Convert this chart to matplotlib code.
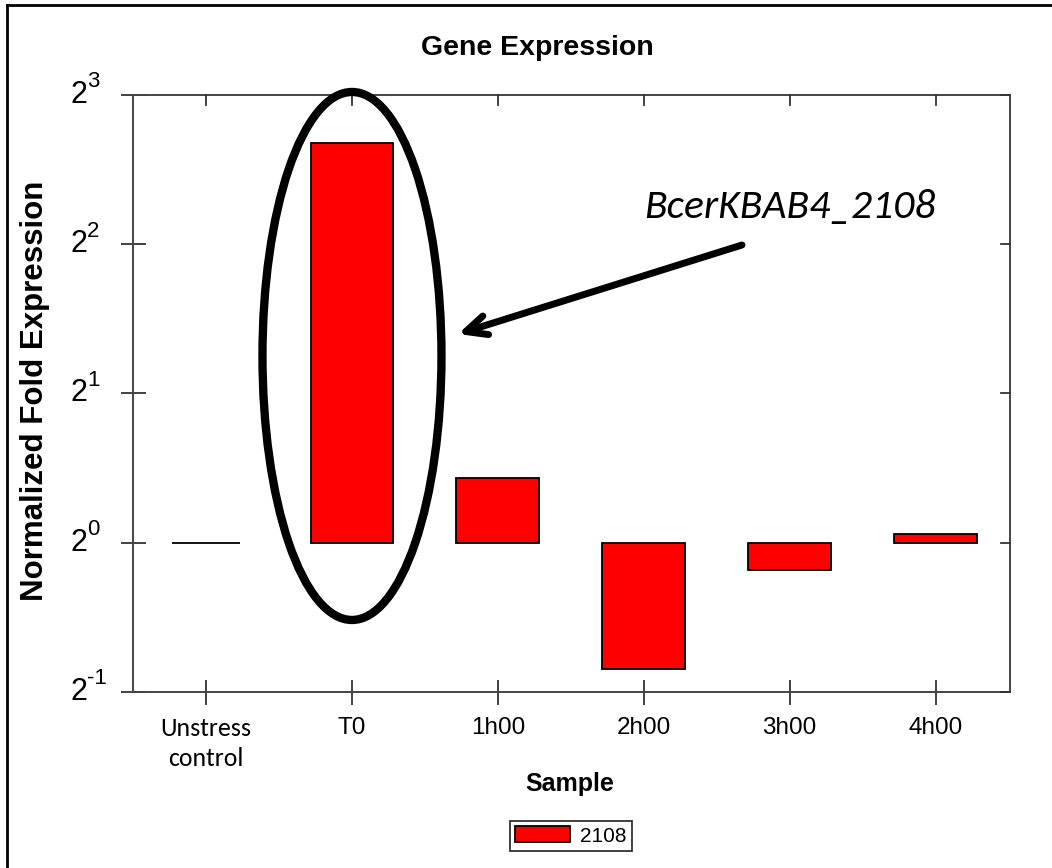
import matplotlib
matplotlib.use("Agg")

import matplotlib.pyplot as plt
import matplotlib.transforms as mtransforms
import numpy as np
from matplotlib import font_manager
from matplotlib.font_manager import FontProperties
from matplotlib.lines import Line2D
from matplotlib.patches import Ellipse, Patch
from matplotlib.ticker import NullLocator


samples = ["Unstress\ncontrol", "T0", "1h00", "2h00", "3h00", "4h00"]
fold_expression = [1.0, 6.41, 1.352, 0.557, 0.882, 1.043]
bar_widths = [0.47, 0.56, 0.57, 0.57, 0.57, 0.57]
y_exponents = [-1, 0, 1, 2, 3]
series_name = "2108"
gene_label = "BcerKBAB4_2108"


def narrow_font(bold=False):
    """Pick a condensed sans face if one is installed, else plain Liberation Sans."""
    wanted = ("Liberation Sans Narrow", "Noto Sans", "Open Sans", "Roboto", "Inter")
    for f in font_manager.fontManager.ttflist:
        if f.name not in wanted or f.style != "normal":
            continue
        if f.stretch not in ("condensed", "semi-condensed", "extra-condensed"):
            continue
        w = f.weight if isinstance(f.weight, int) else (700 if f.weight == "bold" else 400)
        if (w >= 600) == bold and w in (400, 700):
            return FontProperties(fname=f.fname)
    return FontProperties(family="Liberation Sans", weight="bold" if bold else "normal")


def sized(fp, size):
    fp = fp.copy()
    fp.set_size(size)
    return fp


installed = {f.name for f in font_manager.fontManager.ttflist}
NARROW = narrow_font(False)
NARROW_BOLD = narrow_font(True)
OFFICE = "Carlito" if "Carlito" in installed else "Open Sans"

fig = plt.figure(figsize=(10.52, 8.68), dpi=100)
ax = fig.add_axes([0.1264, 0.2028, 0.8337, 0.6878])

x = np.arange(len(samples))
heights = np.array(fold_expression) - 1.0
ax.bar(x, heights, bottom=1.0, width=bar_widths, color="#ff0000",
       edgecolor="black", linewidth=1.3, zorder=2)

ax.set_yscale("log", base=2)
ax.set_ylim(2.0 ** -1, 2.0 ** 3)
ax.set_xlim(-0.5, 5.51)

# y labels drawn as "2" plus a raised exponent
ax.set_yticks([2.0 ** e for e in y_exponents])
ax.set_yticklabels([])
ax.yaxis.set_minor_locator(NullLocator())
base_tf = mtransforms.blended_transform_factory(fig.transFigure, ax.transData)
for e in y_exponents:
    ax.text(87 / 1052, 2.0 ** e, "2", transform=base_tf, ha="right", va="center",
            fontproperties=sized(NARROW, 22), clip_on=False)
    sup_tf = base_tf + mtransforms.ScaledTranslation(0, 13 / 100, fig.dpi_scale_trans)
    ax.text(87 / 1052, 2.0 ** e, f"{e}", transform=sup_tf, ha="left", va="center",
            fontproperties=sized(NARROW, 16), clip_on=False)

ax.set_xticks(x)
ax.set_xticklabels(samples)
for i, lab in enumerate(ax.get_xticklabels()):
    if i == 0:
        lab.set_fontfamily(OFFICE)
        lab.set_fontsize(18.5)
        lab.set_linespacing(1.35)
    else:
        lab.set_fontproperties(sized(NARROW, 17.5))

ax.tick_params(axis="both", which="major", direction="inout", length=18,
               width=1.3, color="#333333", top=False, right=False, pad=9)
for xi in x:
    ax.plot([xi, xi], [2.0 ** 3, 2.0 ** 2.93], color="#333333", lw=1.3,
            clip_on=False, zorder=3)
for e in y_exponents:
    ax.plot([5.51, 5.45], [2.0 ** e, 2.0 ** e], color="#333333", lw=1.3,
            clip_on=False, zorder=3)

for spine in ax.spines.values():
    spine.set_color("#444444")
    spine.set_linewidth(1.4)

fig.text(537 / 1052, 1 - 48 / 868, "Gene Expression", ha="center", va="center",
         fontproperties=sized(NARROW_BOLD, 20.5))
fig.text(35 / 1052, 1 - 391 / 868, "Normalized Fold Expression", ha="center",
         va="center", rotation=90, fontsize=22.5, fontweight="bold",
         family="Liberation Sans")
fig.text(570 / 1052, 1 - 784 / 868, "Sample", ha="center", va="center",
         fontproperties=sized(NARROW_BOLD, 18))

# circle the T0 bar and point at it with the gene name
ellipse = Ellipse((0.2497, 0.5628), 0.2041, 0.8844, transform=ax.transAxes,
                  fill=False, edgecolor="black", linewidth=6, clip_on=False, zorder=4)
ax.add_patch(ellipse)

fig.text(790 / 1052, 1 - 207 / 868, gene_label, ha="center", va="center",
         fontsize=30, style="italic", family=OFFICE)
ax.annotate("", xy=(458 / 1052, 1 - 334 / 868), xycoords="figure fraction",
            xytext=(742 / 1052, 1 - 245 / 868), textcoords="figure fraction",
            arrowprops=dict(arrowstyle="->,head_length=1.5,head_width=0.7",
                            lw=5, color="black", capstyle="round",
                            joinstyle="round", shrinkA=0, shrinkB=0))

handles = [Patch(facecolor="#ff0000", edgecolor="black", linewidth=1.3)]
leg = fig.legend(handles, [series_name], loc="center",
                 bbox_to_anchor=(571 / 1052, 1 - 836 / 868), frameon=True,
                 fancybox=False, edgecolor="black", handlelength=2.6,
                 handleheight=0.8, handletextpad=0.5, borderpad=0.25,
                 prop=sized(NARROW, 15))
leg.get_frame().set_linewidth(1.3)

# page border on the left and top edges
fig.add_artist(Line2D([7 / 1052, 7 / 1052], [0, 1 - 5 / 868],
                      transform=fig.transFigure, color="black", lw=2))
fig.add_artist(Line2D([7 / 1052, 1], [1 - 5 / 868, 1 - 5 / 868],
                      transform=fig.transFigure, color="black", lw=2))

fig.savefig("out.png", dpi=100)
